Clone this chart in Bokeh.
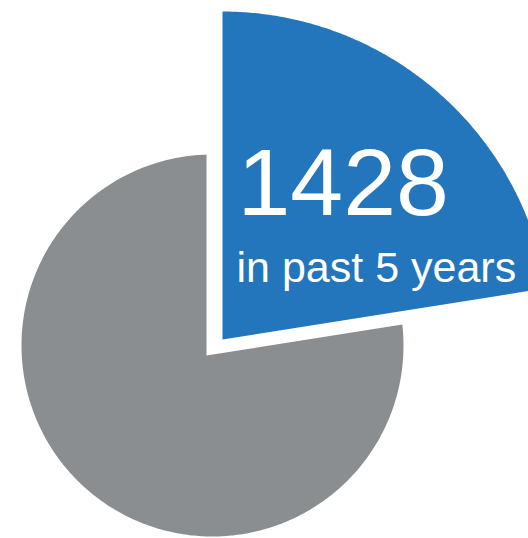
import numpy as np
from bokeh.plotting import figure
from bokeh.models import Range1d
from bokeh.core.properties import value
from bokeh.embed import file_html
from bokeh.resources import INLINE

# ---- data ----
categories = ["past 5 years", "earlier"]
values = [1428, 4920]
subtitle = "in past 5 years"
colors = ["#2376BC", "#8B8E90"]

# ---- layout (pixel frame, y downwards) ----
W, H = 528, 538
p = figure(width=W, height=H, output_backend="svg", toolbar_location=None,
           x_range=Range1d(0, W), y_range=Range1d(H, 0),
           min_border=0, min_border_left=0, min_border_right=0,
           min_border_top=0, min_border_bottom=0)
p.axis.visible = False
p.grid.visible = False
p.outline_line_color = None
p.background_fill_color = "white"
p.border_fill_color = "white"

total = float(sum(values))
frac = values[0] / total
start_deg = 90.0
end_deg = start_deg - 360.0 * frac   # highlighted slice runs clockwise from 12 o'clock

# exploded (highlighted) slice
bx, by, br = 222.0, 339.0, 328.0
th = np.radians(np.linspace(start_deg, end_deg, 200))
blue_x = np.concatenate([[bx], bx + br * np.cos(th), [bx]])
blue_y = np.concatenate([[by], by - br * np.sin(th), [by]])

# remaining slice
ax_, ay_ = 206.0, 355.0          # apex
cx, cy, cr = 212.0, 345.0, 191.0 # arc circle

def ray_hit(deg):
    d = np.array([np.cos(np.radians(deg)), -np.sin(np.radians(deg))])
    o = np.array([ax_ - cx, ay_ - cy])
    b = 2 * o.dot(d)
    c = o.dot(o) - cr ** 2
    t = (-b + np.sqrt(b * b - 4 * c)) / 2
    return np.array([ax_, ay_]) + t * d

p1 = ray_hit(end_deg)
p2 = ray_hit(start_deg)
phi1 = np.degrees(np.arctan2(-(p1[1] - cy), p1[0] - cx))
phi2 = np.degrees(np.arctan2(-(p2[1] - cy), p2[0] - cx)) - 360.0
ph = np.radians(np.linspace(phi1, phi2, 400))
gray_x = np.concatenate([[ax_], cx + cr * np.cos(ph), [ax_]])
gray_y = np.concatenate([[ay_], cy - cr * np.sin(ph), [ay_]])

p.patch(gray_x, gray_y, fill_color=colors[1], line_color=None)
p.patch(blue_x, blue_y, fill_color=colors[0], line_color=None)

p.text(x=[237], y=[182], text=[str(values[0])], text_color="white",
       text_font=value("Liberation Sans"), text_font_size="95px",
       text_baseline="alphabetic", text_align="left")
p.text(x=[236], y=[266], text=[subtitle], text_color="white",
       text_font=value("Liberation Sans"), text_font_size="43px",
       text_baseline="alphabetic", text_align="left")

open("out.html", "w").write(file_html(p, INLINE))
